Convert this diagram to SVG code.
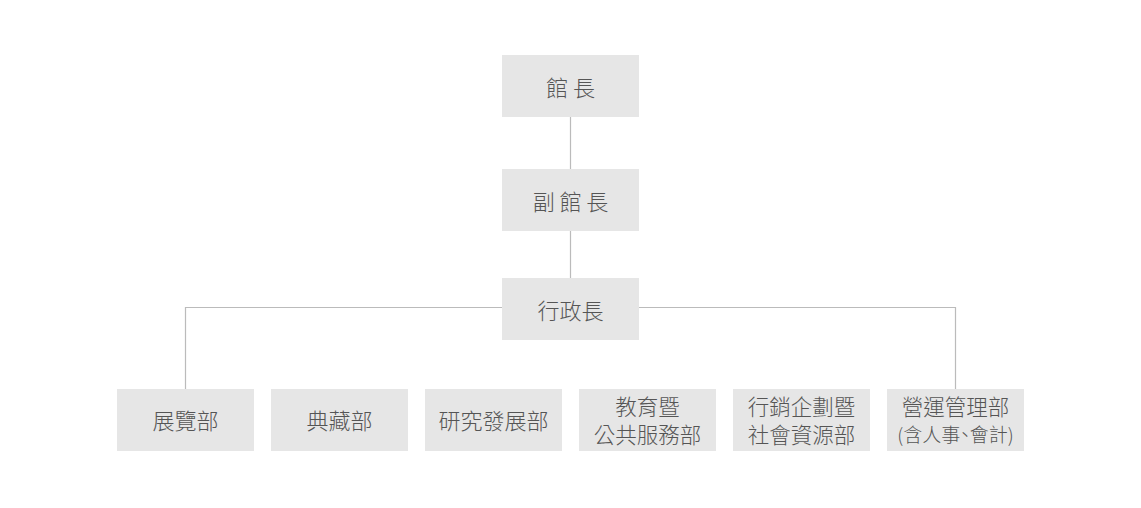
<svg xmlns="http://www.w3.org/2000/svg" width="1141" height="508" viewBox="0 0 1141 508">
<style>
.box{fill:#e6e6e6}
.t{font-family:"Noto Sans CJK TC","Noto Sans CJK SC",sans-serif;font-size:22px;font-weight:300;fill:#555;text-anchor:middle}
.d{font-size:21.5px}
.s{font-size:19px;font-feature-settings:"palt"}
.ln{stroke:#bbbbbb;stroke-width:1.2;fill:none}
</style>
<rect width="1141" height="508" fill="#ffffff"/>
<g id="connectors">
<path class="ln" d="M570.5 117V169M570.5 231V278"/>
<path class="ln" d="M502 307.5H185.5V389M639 307.5H955.5V389"/>
</g>
<g id="director"><rect class="box" x="502" y="55" width="137" height="62"/><text class="t" x="570.5" y="96">館 長</text></g>
<g id="deputy"><rect class="box" x="502" y="169" width="137" height="62"/><text class="t" x="570.5" y="210">副 館 長</text></g>
<g id="admin"><rect class="box" x="502" y="278" width="137" height="62"/><text class="t" x="570.5" y="319">行政長</text></g>
<g id="exhibit"><rect class="box" x="117" y="389" width="137" height="62"/><text class="t" x="185.5" y="429">展覽部</text></g>
<g id="collection"><rect class="box" x="271" y="389" width="137" height="62"/><text class="t" x="339.5" y="429">典藏部</text></g>
<g id="research"><rect class="box" x="425" y="389" width="137" height="62"/><text class="t" x="493.5" y="429">研究發展部</text></g>
<g id="education"><rect class="box" x="579" y="389" width="137" height="62"/><text class="t d" x="647.5" y="414.5">教育暨</text><text class="t d" x="647.5" y="442.5">公共服務部</text></g>
<g id="marketing"><rect class="box" x="733" y="389" width="137" height="62"/><text class="t d" x="801.5" y="414.5">行銷企劃暨</text><text class="t d" x="801.5" y="442.5">社會資源部</text></g>
<g id="operations"><rect class="box" x="887" y="389" width="137" height="62"/><text class="t d" x="955.5" y="414.5">營運管理部</text><text class="t s" x="955.5" y="442">(含人事、會計)</text></g>
</svg>
